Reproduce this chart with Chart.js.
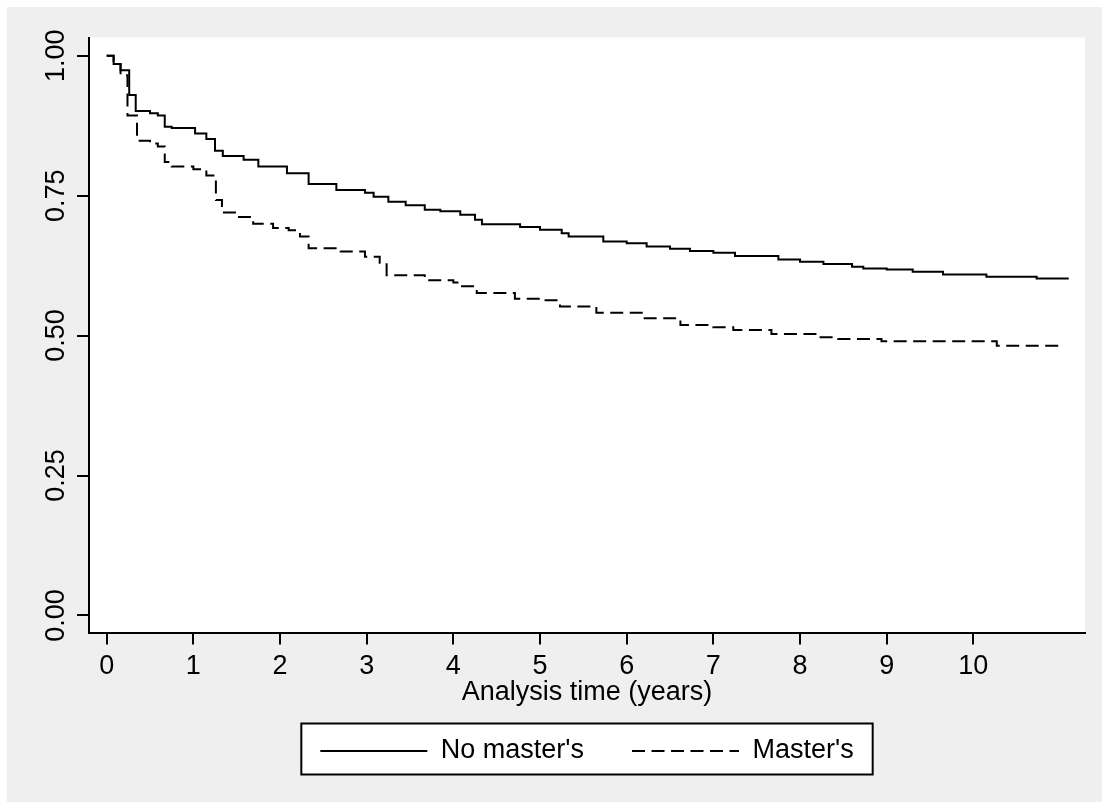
<!DOCTYPE html>
<html>
<head>
<meta charset="utf-8">
<script src="https://cdn.jsdelivr.net/npm/chart.js@4.4.1/dist/chart.umd.min.js"></script>
<style>
  body { margin: 0; background: #fff; }
</style>
</head>
<body>
<canvas id="kmChart" width="1102" height="809"></canvas>
<script>
// Kaplan-Meier estimates: time of each drop and the value after it
const noMasterTimes = [0, 0.08, 0.16, 0.26, 0.335, 0.50, 0.59, 0.67, 0.75, 1.02, 1.15, 1.25, 1.34, 1.58, 1.75, 2.08, 2.33, 2.65, 2.98, 3.08, 3.25, 3.45, 3.67, 3.85, 4.08, 4.25, 4.33, 4.77, 5.00, 5.25, 5.33, 5.73, 6.00, 6.23, 6.50, 6.73, 7.00, 7.25, 7.75, 8.00, 8.27, 8.60, 8.73, 9.00, 9.30, 9.65, 10.15, 10.73, 11.10];
const noMasterSurv  = [1.000, 0.985, 0.974, 0.930, 0.901, 0.897, 0.893, 0.873, 0.871, 0.861, 0.851, 0.830, 0.821, 0.814, 0.802, 0.790, 0.771, 0.760, 0.755, 0.748, 0.739, 0.733, 0.725, 0.722, 0.716, 0.707, 0.699, 0.694, 0.689, 0.683, 0.677, 0.668, 0.665, 0.659, 0.655, 0.651, 0.648, 0.642, 0.636, 0.632, 0.628, 0.623, 0.620, 0.618, 0.614, 0.609, 0.605, 0.602, 0.602];

const masterTimes = [0, 0.08, 0.16, 0.24, 0.35, 0.50, 0.59, 0.67, 0.75, 1.00, 1.15, 1.26, 1.33, 1.50, 1.69, 1.92, 2.10, 2.23, 2.33, 2.70, 2.98, 3.15, 3.23, 3.67, 4.00, 4.10, 4.27, 4.71, 5.00, 5.23, 5.65, 6.19, 6.62, 7.00, 7.23, 7.67, 8.21, 8.44, 8.94, 10.27, 11.04];
const masterSurv  = [1.000, 0.985, 0.965, 0.893, 0.848, 0.843, 0.838, 0.810, 0.802, 0.797, 0.786, 0.742, 0.720, 0.712, 0.700, 0.692, 0.688, 0.677, 0.656, 0.650, 0.641, 0.630, 0.608, 0.599, 0.595, 0.588, 0.576, 0.566, 0.563, 0.552, 0.541, 0.531, 0.519, 0.515, 0.510, 0.503, 0.497, 0.494, 0.490, 0.482, 0.482];

const xTicks = [0, 1, 2, 3, 4, 5, 6, 7, 8, 9, 10];
const yTicks = [0, 0.25, 0.5, 0.75, 1];
const seriesLabels = ["No master's", "Master's"];
const xTitle = "Analysis time (years)";

function toPoints(times, values) {
    return times.map((t, i) => ({ x: t, y: values[i] }));
}

function legendRect(chart) {
    const boxes = chart.legend && chart.legend.legendHitBoxes;
    if (!boxes || !boxes.length) return null;
    const first = boxes[0];
    const last = boxes[boxes.length - 1];
    const left = first.left - 19;
    const right = last.left + last.width + 19;
    const top = first.top - 14;
    const bottom = first.top + first.height + 10;
    return { left, top, width: right - left, height: bottom - top };
}

// gray page, white plot region, white legend box
const backdrop = {
    id: "backdrop",
    beforeDraw(chart) {
        const { ctx, chartArea } = chart;
        ctx.save();
        ctx.fillStyle = "#ffffff";
        ctx.fillRect(0, 0, chart.width, chart.height);
        ctx.fillStyle = "#efefef";
        ctx.fillRect(7, 7, chart.width - 7, chart.height - 14);
        ctx.fillStyle = "#ffffff";
        ctx.fillRect(chartArea.left, chartArea.top, chartArea.right - chartArea.left, chartArea.bottom - chartArea.top);
        const r = legendRect(chart);
        if (r) ctx.fillRect(r.left, r.top, r.width, r.height);
        ctx.restore();
    },
    afterDraw(chart) {
        const r = legendRect(chart);
        if (!r) return;
        const ctx = chart.ctx;
        ctx.save();
        ctx.strokeStyle = "#000000";
        ctx.lineWidth = 2;
        ctx.strokeRect(r.left, r.top, r.width, r.height);
        ctx.restore();
    },
};

Chart.defaults.font.family = "'Liberation Sans', Arial, Helvetica, sans-serif";
Chart.defaults.font.size = 27;
Chart.defaults.color = "#000000";

new Chart(document.getElementById("kmChart").getContext("2d"), {
    type: "line",
    data: {
        datasets: [
            {
                label: seriesLabels[0],
                data: toPoints(noMasterTimes, noMasterSurv),
                borderColor: "#000000",
                backgroundColor: "rgba(0,0,0,0)",
                borderWidth: 2,
                stepped: true,
                pointRadius: 0,
            },
            {
                label: seriesLabels[1],
                data: toPoints(masterTimes, masterSurv),
                borderColor: "#000000",
                backgroundColor: "rgba(0,0,0,0)",
                borderWidth: 2,
                borderDash: [13, 6.5],
                stepped: true,
                pointRadius: 0,
            },
        ],
    },
    options: {
        responsive: false,
        animation: false,
        events: [],
        layout: {
            padding: { left: 20, right: 17, top: 37.5, bottom: 34.5 },
        },
        scales: {
            x: {
                type: "linear",
                min: -0.204,
                max: 11.288,
                afterBuildTicks: (scale) => {
                    scale.ticks = xTicks.map((v) => ({ value: v }));
                },
                afterFit: (scale) => {
                    scale.height = 57;
                },
                grid: {
                    drawOnChartArea: false,
                    tickLength: 12,
                    color: "#000000",
                    lineWidth: 2,
                },
                border: { display: true, color: "#000000", width: 2 },
                ticks: {
                    padding: 6,
                    maxRotation: 0,
                    color: "#000000",
                    font: { size: 27 },
                },
                title: {
                    display: true,
                    text: xTitle,
                    color: "#000000",
                    font: { size: 27 },
                    padding: { top: 0, bottom: -19.2 },
                },
            },
            y: {
                type: "linear",
                min: -0.0304,
                max: 1.0325,
                afterBuildTicks: (scale) => {
                    scale.ticks = yTicks.map((v) => ({ value: v }));
                },
                afterFit: (scale) => {
                    scale.width = 69;
                },
                grid: {
                    drawOnChartArea: false,
                    tickLength: 12,
                    color: "#000000",
                    lineWidth: 2,
                },
                border: { display: true, color: "#000000", width: 2 },
                ticks: {
                    padding: -6,
                    minRotation: 90,
                    maxRotation: 90,
                    crossAlign: "center",
                    color: "#000000",
                    font: { size: 27 },
                    callback: (value) => Number(value).toFixed(2),
                },
            },
        },
        plugins: {
            legend: {
                position: "bottom",
                fullSize: false,
                labels: {
                    usePointStyle: true,
                    pointStyle: "line",
                    pointStyleWidth: 107,
                    padding: 48,
                    color: "#000000",
                    font: { size: 27 },
                    generateLabels: (chart) => {
                        const items = Chart.defaults.plugins.legend.labels.generateLabels(chart);
                        items.forEach((item) => {
                            const ds = chart.data.datasets[item.datasetIndex];
                            item.lineDash = ds.borderDash || [];
                            item.lineWidth = ds.borderWidth;
                            item.strokeStyle = ds.borderColor;
                        });
                        return items;
                    },
                },
            },
            tooltip: { enabled: false },
        },
    },
    plugins: [backdrop],
});
</script>
</body>
</html>
